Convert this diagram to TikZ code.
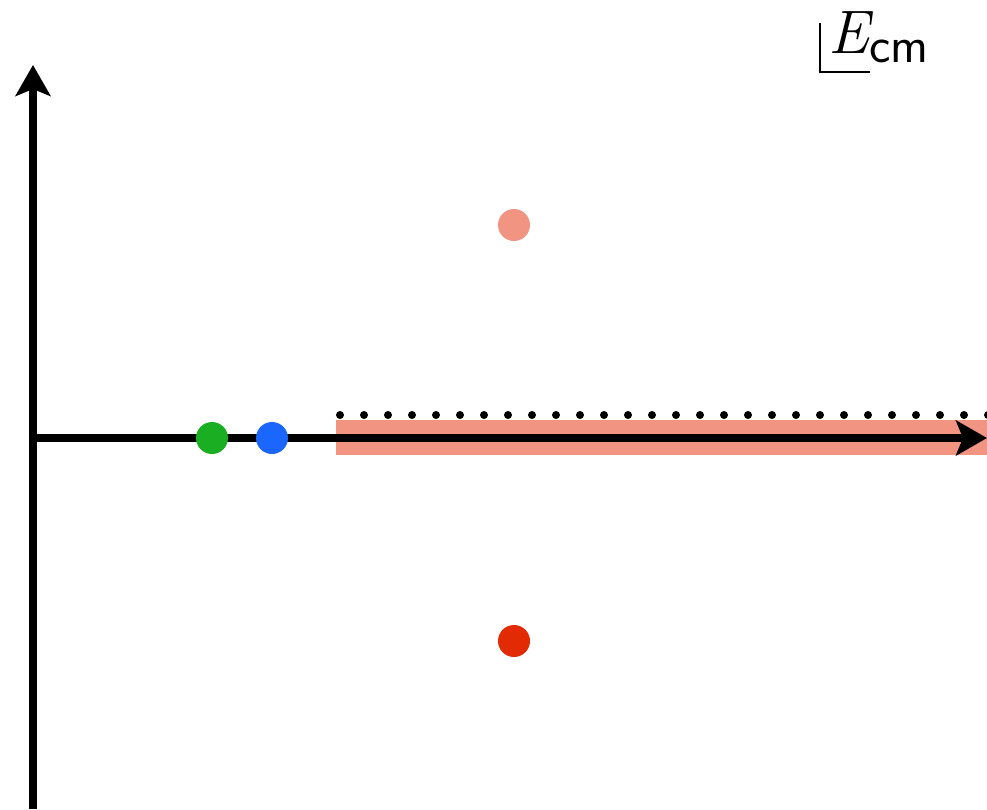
\documentclass[tikz,border=0pt]{standalone}
\usepackage{fontspec}
\usepackage{tikz}
\usetikzlibrary{arrows.meta}
\definecolor{salmon}{HTML}{F29482}
\definecolor{cgreen}{HTML}{1AAE22}
\definecolor{cblue}{HTML}{1A66FF}
\definecolor{cred}{HTML}{E22A05}
\tikzset{
  axis/.style={-{Stealth[length=0.62cm,width=0.7cm,inset=0.14cm]}, line width=0.155cm, draw=black},
  pole/.style={circle, fill=#1, inner sep=0pt, minimum size=0.64cm},
  pip/.style={circle, fill=black, inner sep=0pt, minimum size=0.16cm},
  lab/.style={inner sep=0pt, font=\fontsize{33}{33}\selectfont},
}

\begin{document}
\begin{tikzpicture}[x=0.02cm, y=-0.02cm]
    \useasboundingbox (0,0) rectangle (987,809);
    % cut along the real axis
    \fill[salmon] (336,420) rectangle (987,455);
    \foreach \k in {0,...,27}
      \node[pip] (p\k) at ({340+24*\k},415) {};
    % axes
    \coordinate (o) at (33,438);
    \coordinate (xe) at (987,438);
    \coordinate (yb) at (33,809);
    \coordinate (ye) at (33,65);
    \draw[axis] (o) -- (xe);
    \draw[axis] (yb) -- (ye);
    % poles
    \node[pole=cgreen] (g) at (212,438) {};
    \node[pole=cblue] (b) at (272,438) {};
    \node[pole=salmon] (up) at (514,225) {};
    \node[pole=cred] (dn) at (514,641) {};
    % label
    \node[lab, anchor=base east, font=\fontsize{35}{35}\selectfont\itshape] (e) at (870,53) {E};
    \node[lab, anchor=base west, font=\fontsize{29}{29}\selectfont\sffamily] (cm) at (869,62) {cm};
    \draw[line width=0.055cm] (820,23) -- (820,72) -- (870,72);
  \end{tikzpicture}
\end{document}
